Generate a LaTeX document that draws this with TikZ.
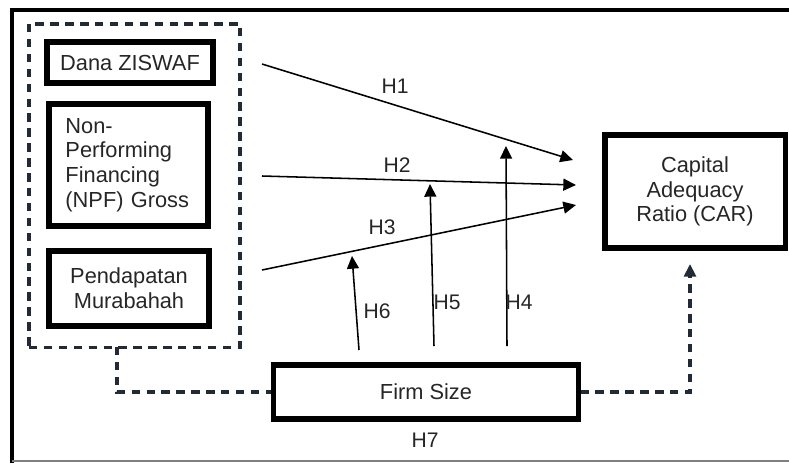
\documentclass[tikz,border=0pt]{standalone}
\usepackage{fontspec}
\setmainfont{Liberation Sans}
\usetikzlibrary{arrows.meta}
\definecolor{dashgray}{HTML}{222B35}
\definecolor{txtgray}{HTML}{262626}

\begin{document}
\begin{tikzpicture}[x=0.025cm, y=-0.025cm,
  var/.style={draw, line width=3.6pt, text=txtgray, font=\fontsize{15.5}{17.5}\selectfont, align=center, inner sep=0pt},
  hyp/.style={text=txtgray, font=\fontsize{15}{17}\selectfont, inner sep=0pt},
  effect/.style={line width=1.1pt, -{Triangle[length=9pt, width=8.5pt]}},
  link/.style={dashgray, line width=2.2pt, dash pattern=on 6pt off 4.6pt}]
  \useasboundingbox (0,0) rectangle (789,463);

  % frame
  \draw[line width=3pt] (12,463) -- (12,10) -- (789,10);
  \draw[gray, line width=0.9pt] (12,461) -- (789,461);

  % independent variables
  \node[link, draw, minimum width=5.275cm, minimum height=8.075cm] (grp) at (134.5,185.5) {};
  \node[var, minimum width=4.15cm, minimum height=1.025cm] (zis) at (130,62.5) {Dana ZISWAF};
  \node[var, minimum width=3.975cm, minimum height=3.05cm, text width=3.15cm, align=left] (npf) at (128.5,165) {Non-\\Performing\\Financing\\(NPF) Gross};
  \node[var, minimum width=4.0cm, minimum height=1.875cm] (pm) at (129,288.5) {Pendapatan\\Murabahah};

  % dependent and moderating variables
  \node[var, minimum width=4.5cm, minimum height=2.825cm] (car) at (695,191.5) {Capital\\Adequacy\\Ratio (CAR)};
  \node[var, minimum width=7.6cm, minimum height=1.35cm] (fs) at (426,392) {Firm Size};

  % arrow ends
  \coordinate (h1s) at (262,64);
  \coordinate (h1e) at (573,160);
  \coordinate (h2s) at (262,176);
  \coordinate (h2e) at (576,185);
  \coordinate (h3s) at (262,270);
  \coordinate (h3e) at (576,205);
  \coordinate (h4s) at (507,346);
  \coordinate (h4e) at (506,146);
  \coordinate (h5s) at (434,346);
  \coordinate (h5e) at (430,184);
  \coordinate (h6s) at (359,350);
  \coordinate (h6e) at (352,256);
  \coordinate (g1) at (117,347);
  \coordinate (c1) at (690,264);

  \draw[effect] (h1s) -- (h1e);
  \draw[effect] (h2s) -- (h2e);
  \draw[effect] (h3s) -- (h3e);
  \draw[effect] (h4s) -- (h4e);
  \draw[effect] (h5s) -- (h5e);
  \draw[effect] (h6s) -- (h6e);

  \draw[link] (g1) |- (fs.west);
  \draw[link, -{Triangle[length=9pt, width=8.5pt]}] (fs.east) -| (c1);

  % hypotheses
  \node[hyp] (l1) at (395,86) {H1};
  \node[hyp] (l2) at (397,165) {H2};
  \node[hyp] (l3) at (382,227) {H3};
  \node[hyp] (l4) at (519,302) {H4};
  \node[hyp] (l5) at (447,302) {H5};
  \node[hyp] (l6) at (377,311) {H6};
  \node[hyp] (l7) at (425,440) {H7};
\end{tikzpicture}
\end{document}
